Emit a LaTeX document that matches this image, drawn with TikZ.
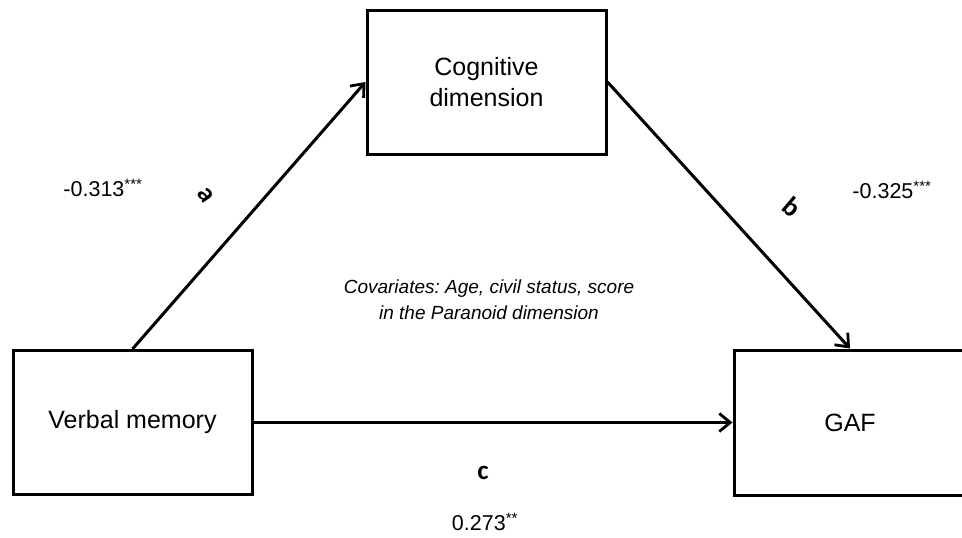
\documentclass[tikz,border=0pt]{standalone}
\usepackage{fontspec}
\setmainfont{Liberation Sans}
\newfontfamily\labfont{Carlito}
\usetikzlibrary{arrows.meta}
\frenchspacing
\begin{document}
\begin{tikzpicture}[x=1pt,y=-1pt,
  box/.style={draw=black, line width=3pt, rectangle, inner sep=0pt, align=center,
    font=\fontsize{25}{31}\selectfont},
  conn/.style={line width=3pt, -{Straight Barb[length=11pt,width=18pt,line width=2.8pt]}},
  coef/.style={font=\fontsize{21.5}{26}\selectfont, inner sep=0pt},
  pathlab/.style={font=\fontsize{27}{30}\labfont\bfseries, inner sep=0pt},
  cov/.style={font=\fontsize{19}{26}\selectfont\itshape, align=center, inner sep=0pt}]
\clip (0,0) rectangle (962,538);
\fill[white] (0,0) rectangle (962,538);
\node[box, minimum width=239pt, minimum height=144pt] (vm) at (132.5,422.5) {Verbal memory};
\node[box, minimum width=239pt, minimum height=144pt] (cog) at (486.5,82) {Cognitive\\dimension};
\node[box, minimum width=232pt, minimum height=145pt] (gaf) at (850,422.5) {GAF};
\draw[conn] (vm.north) -- (cog.west);
\draw[conn] (cog.east) -- (gaf.north);
\draw[conn] (vm.east) -- (gaf.west);
\node[pathlab, rotate=-55] (la) at (206,195) {a};
\node[pathlab, rotate=-40] (lb) at (792,207) {b};
\node[pathlab] (lc) at (483,473) {c};
\node[coef] (ca) at (103,188) {-0.313\textsuperscript{***}};
\node[coef] (cb) at (892,190) {-0.325\textsuperscript{***}};
\node[coef] (cc) at (485,522) {0.273\textsuperscript{**}};
\node[cov] (covs) at (489,300) {Covariates: Age, civil status, score\\in the Paranoid dimension};
\end{tikzpicture}
\end{document}
